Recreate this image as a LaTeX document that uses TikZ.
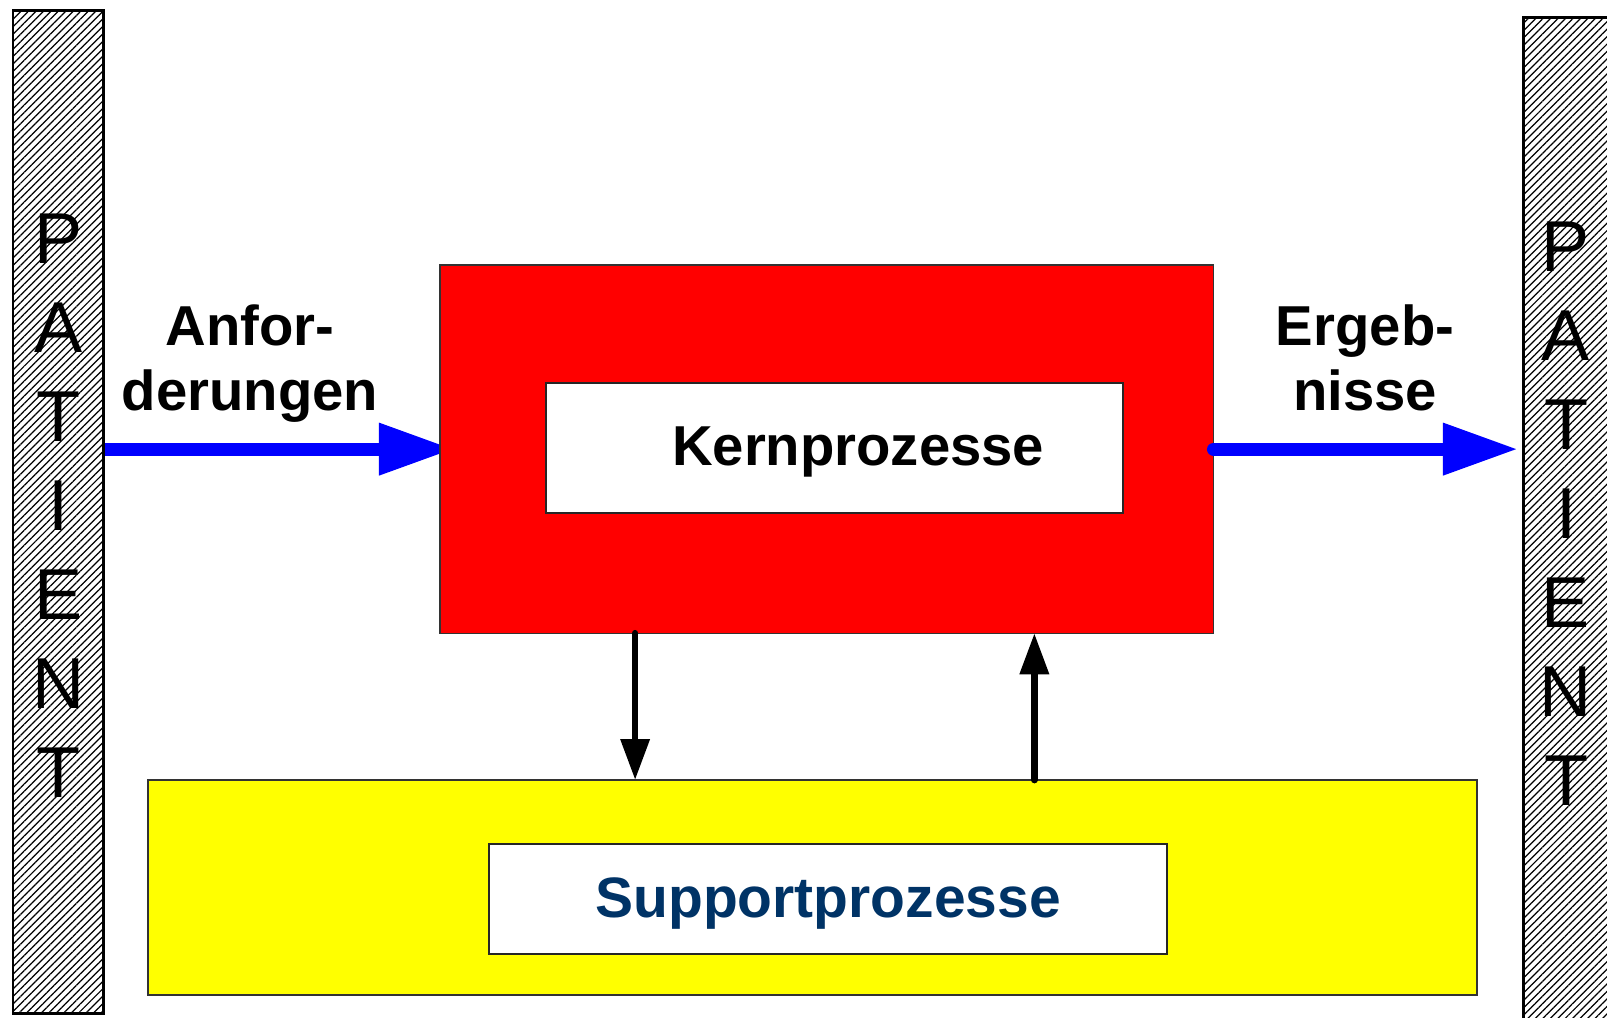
\documentclass[tikz,border=0pt]{standalone}
\usepackage{fontspec}
\setmainfont{Liberation Sans}
\usetikzlibrary{arrows.meta,patterns.meta,positioning}
\pgfdeclarelayer{background}
\pgfsetlayers{background,main}
\definecolor{supportblue}{RGB}{0,51,102}
\definecolor{corered}{RGB}{255,0,0}
\definecolor{supportyellow}{RGB}{255,255,0}
\definecolor{flowblue}{RGB}{0,0,255}
\tikzstyle{patient} = [draw, line width=0.85pt, pattern={Lines[angle=45,distance=1.5pt,line width=0.35pt]}, minimum width=0.9cm, inner sep=0pt, outer sep=0pt, anchor=north west]
\tikzstyle{letters} = [align=center, inner sep=0pt, anchor=north, font={\fontsize{20.5}{25.3}\selectfont}]
\tikzstyle{outerbox} = [draw=black!80, inner sep=0pt, outer sep=0pt, anchor=north west]
\tikzstyle{innerbox} = [draw=black!85, line width=0.6pt, fill=white, inner sep=0pt, outer sep=0pt, anchor=north west]
\tikzstyle{boxtext} = [inner sep=0pt, anchor=base, font={\fontsize{16}{19}\selectfont\bfseries}]
\tikzstyle{flowtext} = [align=center, inner sep=0pt, anchor=north, font={\fontsize{16}{18.5}\selectfont\bfseries}]
\tikzstyle{flow} = [draw, color=flowblue, line width=3.7pt, -{Triangle[length=0.75cm,width=0.49cm]}]
\tikzstyle{arrow} = [draw, color=black, line width=1.9pt, line cap=round, -{Triangle[length=0.41cm,width=0.28cm]}]
\newcommand{\outerbox}[4]{node (#1) [outerbox, fill=#2, minimum width=#3, minimum height=#4] {}}
\newcommand{\innerbox}[3]{node (#1) [innerbox, minimum width=#2, minimum height=#3] {}}

\begin{document}
\begin{tikzpicture}[x=0.01cm,y=-0.01cm]
\useasboundingbox (0,0) rectangle (1607,1017);
\clip (0,0) rectangle (1607,1017);
% patient columns
\path (13,10) node (pl) [patient, minimum height=10.03cm] {};
\path (1523,17) node (pr) [patient, minimum height=10.2cm, minimum width=1.2cm] {};
\path (pl.north west)+(45.5,203) node (tl) [letters] {P\\A\\T\\I\\E\\N\\T};
\path (pr.north west)+(43,204) node (tr) [letters] {P\\A\\T\\I\\E\\N\\T};

% core processes
\path (440,265) \outerbox{kern}{corered}{7.73cm}{3.68cm};
\path (kern.north west)+(106,118) \innerbox{kernin}{5.77cm}{1.30cm};
\path (kernin.center)+(23.5,17) node (kerntext) [boxtext] {Kernprozesse};

% support processes
\path (148,780) \outerbox{sup}{supportyellow}{13.28cm}{2.15cm};
\path (sup.north west)+(341,64) \innerbox{supin}{6.78cm}{1.10cm};
\path (supin.center)+(0,18) node (suptext) [boxtext, text=supportblue, font={\fontsize{16.2}{19}\selectfont\bfseries}] {Supportprozesse};

% labels
\path (250,304) node (req) [flowtext] {Anfor-\\derungen};
\path (1365,304) node (res) [flowtext] {Ergeb-\\nisse};

% flows
\begin{pgfonlayer}{background}
\path [flow] (pl.east |- kern.west) -- ([xshift=0.14cm]kern.west);
\end{pgfonlayer}
\path [flow, line cap=round, shorten >=0.05cm] (kern.east) -- (pr.west |- kern.east);
\coordinate (down) at ([xshift=1.95cm]kern.south west);
\coordinate (up) at ([xshift=5.94cm]kern.south west);
\path [arrow] (down) -- (down |- sup.north);
\path [arrow] (up |- sup.north) -- (up);
\end{tikzpicture}
\end{document}
